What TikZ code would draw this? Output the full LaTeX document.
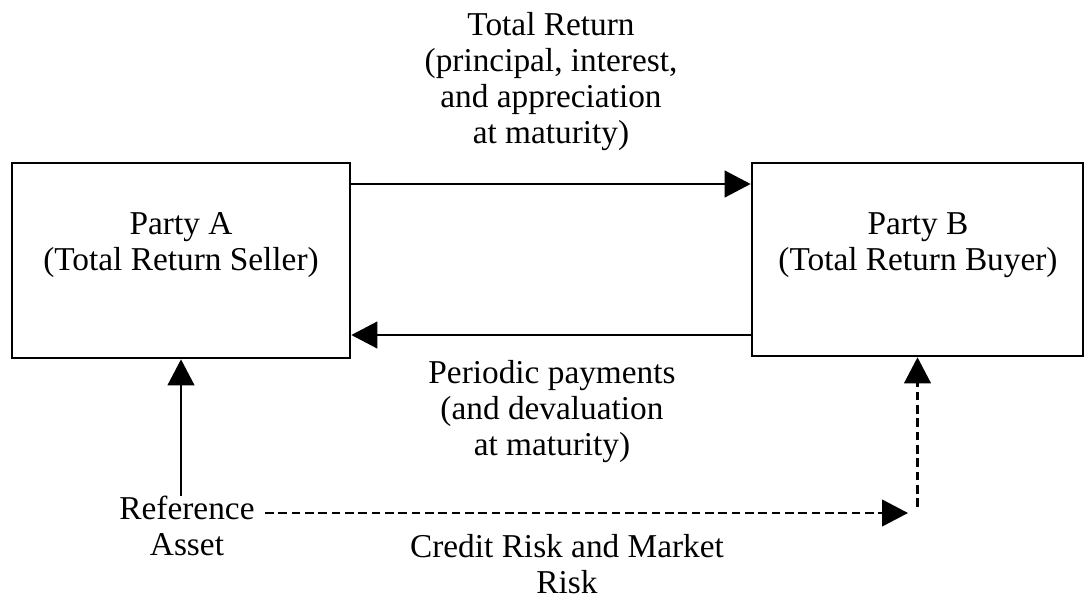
\documentclass[tikz,border=0pt]{standalone}
\usepackage{fontspec}
\setmainfont{Liberation Serif}
\usetikzlibrary{arrows.meta}

\tikzset{
  party/.style={draw, line width=2pt, inner sep=0pt},
  lbl/.style={align=center, inner sep=0pt, font=\fontsize{25pt}{27pt}\selectfont},
  flow/.style={line width=1.6pt, -{Triangle[length=19.5pt, width=20pt]}},
  riskflow/.style={flow, dash pattern=on 6.5pt off 3.5pt}
}

\begin{document}
\begin{tikzpicture}[x=0.75pt, y=-0.75pt]
  \useasboundingbox (0,0) rectangle (1085,601);

  % the two counterparties
  \node[party, minimum width=253.5pt, minimum height=146.25pt] (A) at (181,260.5) {};
  \node[party, minimum width=248.25pt, minimum height=144.75pt] (B) at (917.5,259.5) {};
  \node[lbl] (Atxt) at (181,245) {Party A\\(Total Return Seller)};
  \node[lbl] (Btxt) at (918,245) {Party B\\(Total Return Buyer)};

  % flow labels
  \node[lbl] (tr) at (551,82) {Total Return\\(principal, interest,\\and appreciation\\at maturity)};
  \node[lbl] (pp) at (552,412) {Periodic payments\\(and devaluation\\at maturity)};
  \node[lbl] (ref) at (187,526) {Reference\\Asset};
  \node[lbl] (risk) at (567,564) {Credit Risk and Market\\Risk};

  % levels of the horizontal flows
  \coordinate (ytop) at (0,184);
  \coordinate (ybot) at (0,335);
  \coordinate (d1) at (265,513);
  \coordinate (d2) at (908,513);
  \coordinate (yup) at (0,507);

  % payments between the parties
  \draw[flow] (A.east |- ytop) -- (B.west |- ytop);
  \draw[flow] (B.west |- ybot) -- (A.east |- ybot);

  % the reference asset and the transfer of its risk
  \draw[flow] (A.south |- ref.north) -- (A.south);
  \draw[riskflow] (d1) -- (d2);
  \draw[riskflow] (B.south |- yup) -- (B.south);
\end{tikzpicture}
\end{document}
